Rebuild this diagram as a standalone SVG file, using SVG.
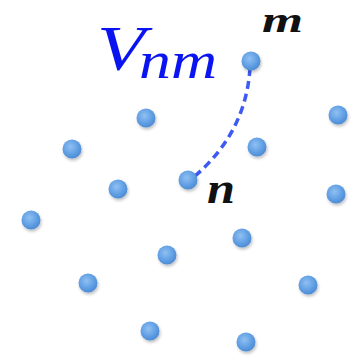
<svg xmlns="http://www.w3.org/2000/svg" width="355" height="358" viewBox="0 0 355 358">
<defs>
<radialGradient id="dotg" cx="0.42" cy="0.38" r="0.65">
<stop offset="0" stop-color="#8fc0f2"/>
<stop offset="0.6" stop-color="#62a0e4"/>
<stop offset="1" stop-color="#4a88d2"/>
</radialGradient>
<filter id="soft" x="-50%" y="-50%" width="200%" height="200%">
<feGaussianBlur in="SourceAlpha" stdDeviation="1.5"/>
<feOffset dx="0.5" dy="1.5" result="b"/>
<feFlood flood-color="#000" flood-opacity="0.25"/>
<feComposite in2="b" operator="in" result="sh"/>
<feGaussianBlur in="SourceGraphic" stdDeviation="0.6" result="g"/>
<feMerge><feMergeNode in="sh"/><feMergeNode in="g"/></feMerge>
</filter>
</defs>
<style>
.dot{fill:url(#dotg);filter:url(#soft)}
.lbl{font-family:"Liberation Serif",serif;font-style:italic;font-weight:bold;fill:#111}
.v{font-family:"Liberation Serif",serif;font-style:italic;fill:#0a14f0}
.edge{fill:none;stroke:#3f5af2;stroke-width:3.5;stroke-dasharray:8 5}
</style>
<text class="v" x="97" y="70" font-size="64" textLength="48" lengthAdjust="spacingAndGlyphs">V</text>
<text class="v" x="139" y="78" font-size="52" textLength="78" lengthAdjust="spacingAndGlyphs">nm</text>
<g id="connectors">
<path class="edge" d="M250 68 Q246 132 195 176"/>
</g>
<g id="m"><circle class="dot" cx="251" cy="61" r="9.5"/><text class="lbl" x="262" y="32" font-size="35" textLength="41" lengthAdjust="spacingAndGlyphs">m</text></g>
<g id="n"><circle class="dot" cx="188" cy="180" r="9.5"/><text class="lbl" x="207" y="203" font-size="44" textLength="28" lengthAdjust="spacingAndGlyphs">n</text></g>
<g id="p1"><circle class="dot" cx="146" cy="118" r="9.5"/></g>
<g id="p2"><circle class="dot" cx="338" cy="115" r="9.5"/></g>
<g id="p3"><circle class="dot" cx="72" cy="149" r="9.5"/></g>
<g id="p4"><circle class="dot" cx="257" cy="147" r="9.5"/></g>
<g id="p5"><circle class="dot" cx="118" cy="189" r="9.5"/></g>
<g id="p6"><circle class="dot" cx="336" cy="194" r="9.5"/></g>
<g id="p7"><circle class="dot" cx="31" cy="220" r="9.5"/></g>
<g id="p8"><circle class="dot" cx="242" cy="238" r="9.5"/></g>
<g id="p9"><circle class="dot" cx="167" cy="255" r="9.5"/></g>
<g id="p10"><circle class="dot" cx="88" cy="283" r="9.5"/></g>
<g id="p11"><circle class="dot" cx="308" cy="285" r="9.5"/></g>
<g id="p12"><circle class="dot" cx="150" cy="331" r="9.5"/></g>
<g id="p13"><circle class="dot" cx="246" cy="342" r="9.5"/></g>
</svg>
